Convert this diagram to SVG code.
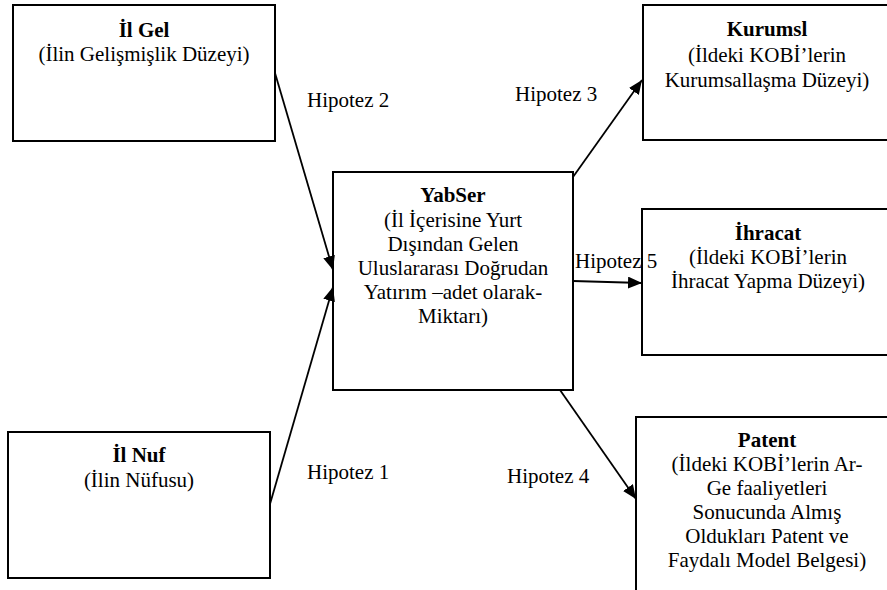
<svg xmlns="http://www.w3.org/2000/svg" width="887" height="590" viewBox="0 0 887 590">
<style>
.box{fill:#fff;stroke:#000;stroke-width:2}
.t{font-family:'Liberation Serif','Times New Roman',serif;font-size:21px;fill:#000;text-anchor:middle}
.b{font-weight:bold}
.lbl{font-family:'Liberation Serif','Times New Roman',serif;font-size:21px;fill:#000}
.c{stroke:#000;stroke-width:1.8;fill:none;marker-end:url(#ah)}
</style>
<defs>
<marker id="ah" markerUnits="userSpaceOnUse" markerWidth="14" markerHeight="12" refX="14" refY="6" orient="auto">
<path d="M0,0 L14,6 L0,12 z" fill="#000"/>
</marker>
</defs>
<rect width="887" height="590" fill="#fff"/>
<g id="ilgel">
<rect class="box" x="13" y="5" width="262" height="136"/>
<text class="t b" x="144" y="37">İl Gel</text>
<text class="t" x="144" y="61">(İlin Gelişmişlik Düzeyi)</text>
</g>
<g id="ilnuf">
<rect class="box" x="8" y="432" width="262" height="146"/>
<text class="t b" x="139" y="462">İl Nuf</text>
<text class="t" x="139" y="487">(İlin Nüfusu)</text>
</g>
<g id="yabser">
<rect class="box" x="333" y="172" width="240" height="218"/>
<text class="t b" x="453" y="202">YabSer</text>
<text class="t" x="453" y="227">(İl İçerisine Yurt</text>
<text class="t" x="453" y="251">Dışından Gelen</text>
<text class="t" x="453" y="275">Uluslararası Doğrudan</text>
<text class="t" x="453" y="299">Yatırım –adet olarak-</text>
<text class="t" x="453" y="323">Miktarı)</text>
</g>
<g id="kurumsl">
<rect class="box" x="643" y="5" width="250" height="135"/>
<text class="t b" x="767" y="36">Kurumsl</text>
<text class="t" x="767" y="62">(İldeki KOBİ’lerin</text>
<text class="t" x="767" y="87">Kurumsallaşma Düzeyi)</text>
</g>
<g id="ihracat">
<rect class="box" x="642" y="209" width="250" height="146"/>
<text class="t b" x="768" y="240">İhracat</text>
<text class="t" x="768" y="264">(İldeki KOBİ’lerin</text>
<text class="t" x="768" y="288">İhracat Yapma Düzeyi)</text>
</g>
<g id="patent">
<rect class="box" x="636" y="417" width="260" height="190"/>
<text class="t b" x="767" y="447">Patent</text>
<text class="t" x="767" y="471">(İldeki KOBİ’lerin Ar-</text>
<text class="t" x="767" y="495">Ge faaliyetleri</text>
<text class="t" x="767" y="519">Sonucunda Almış</text>
<text class="t" x="767" y="543">Oldukları Patent ve</text>
<text class="t" x="767" y="567">Faydalı Model Belgesi)</text>
</g>
<g id="connectors">
<line class="c" x1="275" y1="73" x2="333" y2="270"/>
<line class="c" x1="270" y1="504" x2="333" y2="287"/>
<line class="c" x1="573" y1="177" x2="642" y2="80"/>
<line class="c" x1="573" y1="281" x2="642" y2="283"/>
<line class="c" x1="560" y1="390" x2="636" y2="499"/>
</g>
<g id="labels">
<text class="lbl" x="307" y="107">Hipotez 2</text>
<text class="lbl" x="515" y="101">Hipotez 3</text>
<text class="lbl" x="575" y="268">Hipotez 5</text>
<text class="lbl" x="307" y="479">Hipotez 1</text>
<text class="lbl" x="507" y="483">Hipotez 4</text>
</g>
</svg>
